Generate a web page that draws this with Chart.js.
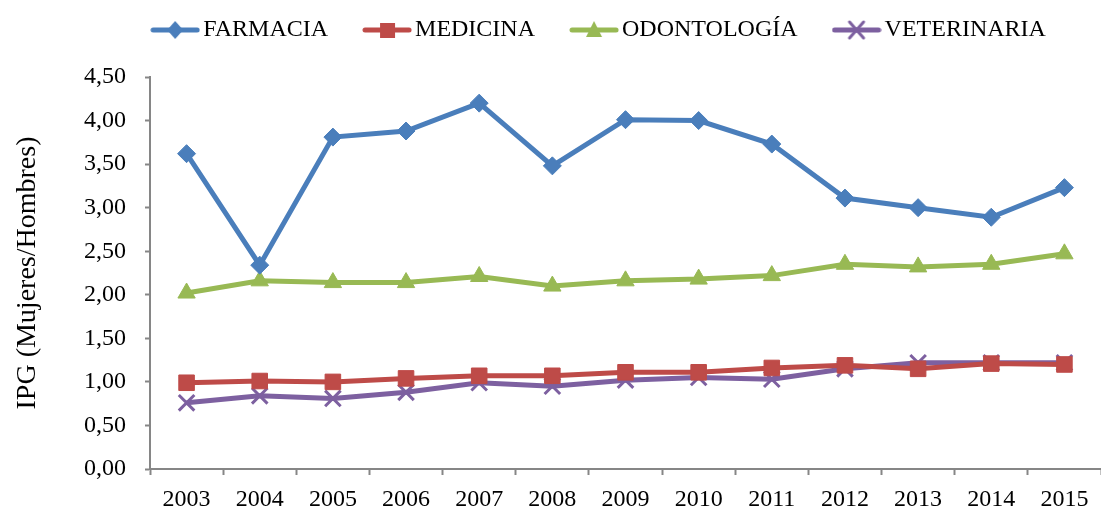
<!DOCTYPE html>
<html>
<head>
<meta charset="utf-8">
<script src="https://cdn.jsdelivr.net/npm/chart.js@4/dist/chart.umd.min.js"></script>
<style>
  html, body { margin: 0; padding: 0; background: #fff; overflow: hidden; }
  canvas { display: block; }
</style>
</head>
<body>
<canvas id="ipgChart" width="1101" height="510"></canvas>
<script>
const years = ['2003', '2004', '2005', '2006', '2007', '2008', '2009', '2010', '2011', '2012', '2013', '2014', '2015'];
const farmacia = [3.62, 2.34, 3.81, 3.88, 4.20, 3.48, 4.01, 4.00, 3.73, 3.11, 3.00, 2.89, 3.23];
const medicina = [0.99, 1.01, 1.00, 1.04, 1.07, 1.07, 1.11, 1.11, 1.16, 1.19, 1.15, 1.21, 1.20];
const odontologia = [2.02, 2.16, 2.14, 2.14, 2.21, 2.10, 2.16, 2.18, 2.22, 2.35, 2.32, 2.35, 2.47];
const veterinaria = [0.76, 0.84, 0.81, 0.88, 0.99, 0.95, 1.02, 1.05, 1.03, 1.15, 1.22, 1.22, 1.22];
const yMin = 0, yMax = 4.5, yStep = 0.5;

const FONT = '"Liberation Serif", "Times New Roman", serif';
const AXIS_GREY = '#868686';

// legend icon: short line with the marker in the middle
function legendIcon(color, shape) {
    const c = document.createElement('canvas');
    c.width = 50; c.height = 22;
    const g = c.getContext('2d');
    g.strokeStyle = color;
    g.fillStyle = color;
    g.lineWidth = 5;
    g.lineCap = 'round';
    g.beginPath(); g.moveTo(3, 11); g.lineTo(47, 11); g.stroke();
    g.beginPath();
    if (shape === 'diamond') {
        g.moveTo(25, 2); g.lineTo(33, 11); g.lineTo(25, 20); g.lineTo(17, 11); g.closePath(); g.fill();
    } else if (shape === 'square') {
        g.fillRect(18, 4, 15, 15);
    } else if (shape === 'triangle') {
        g.moveTo(25, 2); g.lineTo(33, 18); g.lineTo(17, 18); g.closePath(); g.fill();
    } else {
        g.lineWidth = 3;
        g.moveTo(18, 3); g.lineTo(32, 19); g.moveTo(32, 3); g.lineTo(18, 19); g.stroke();
    }
    return c;
}

function series(label, data, color, style, radius, icon) {
    return {
        label: label,
        data: data,
        borderColor: color,
        backgroundColor: color,
        borderWidth: 5,
        pointStyle: style,
        pointRadius: radius,
        pointHoverRadius: radius,
        pointBackgroundColor: color,
        pointBorderColor: color,
        pointBorderWidth: style === 'crossRot' ? 3 : 1,
        tension: 0,
        clip: false,
        legendIcon: icon
    };
}

const datasets = [
    series('FARMACIA', farmacia, '#4A7EBB', 'rectRot', 9, legendIcon('#4A7EBB', 'diamond')),
    series('MEDICINA', medicina, '#BE4B48', 'rect', 11, legendIcon('#BE4B48', 'square')),
    series('ODONTOLOGÍA', odontologia, '#98B954', 'triangle', 10, legendIcon('#98B954', 'triangle')),
    series('VETERINARIA', veterinaria, '#7D60A0', 'crossRot', 11, legendIcon('#7D60A0', 'cross'))
];

// legend box: fixed height above the plot, then nudged into place
const legendPlace = {
    id: 'legendPlace',
    beforeInit(chart) {
        const fit = chart.legend.fit;
        chart.legend.fit = function () {
            fit.bind(chart.legend)();
            this.height = 77;
        };
    },
    afterLayout(chart) {
        const lg = chart.legend;
        lg.top -= 25; lg.bottom -= 25;
        lg.left += 52; lg.right += 52;
    }
};

const ctx = document.getElementById('ipgChart').getContext('2d');

const ipgChart = new Chart(ctx, {
    type: 'line',
    data: { labels: years, datasets: datasets },
    plugins: [legendPlace],
    options: {
        responsive: false,
        animation: false,
        layout: { autoPadding: false, padding: { left: 0, right: 0, top: 0, bottom: 0 } },
        plugins: {
            legend: {
                position: 'top',
                labels: {
                    usePointStyle: true,
                    pointStyleWidth: 32,
                    padding: 43,
                    color: '#000',
                    font: { family: FONT, size: 24 },
                    generateLabels(chart) {
                        return chart.data.datasets.map((ds, i) => ({
                            text: ds.label,
                            pointStyle: ds.legendIcon,
                            fillStyle: ds.borderColor,
                            strokeStyle: ds.borderColor,
                            lineWidth: 0,
                            hidden: !chart.isDatasetVisible(i),
                            datasetIndex: i
                        }));
                    }
                }
            },
            tooltip: { enabled: false },
            title: { display: false }
        },
        scales: {
            x: {
                offset: true,
                grid: {
                    offset: true,
                    drawOnChartArea: false,
                    drawTicks: true,
                    tickLength: 6,
                    tickColor: AXIS_GREY,
                    tickWidth: 2
                },
                border: { color: AXIS_GREY, width: 2 },
                ticks: {
                    color: '#000',
                    padding: 10,
                    maxRotation: 0,
                    font: { family: FONT, size: 24 }
                },
                afterFit(scale) {
                    scale.height = 41;
                    scale.paddingLeft = 0;
                    scale.paddingRight = 0;
                }
            },
            y: {
                min: yMin,
                max: yMax,
                grid: {
                    drawOnChartArea: false,
                    drawTicks: true,
                    tickLength: 5,
                    tickColor: AXIS_GREY,
                    tickWidth: 2
                },
                border: { color: AXIS_GREY, width: 2 },
                ticks: {
                    stepSize: yStep,
                    color: '#000',
                    padding: 19,
                    font: { family: FONT, size: 24 },
                    callback: v => v.toFixed(2).replace('.', ',')
                },
                title: {
                    display: true,
                    text: 'IPG (Mujeres/Hombres)',
                    color: '#000',
                    padding: { top: 11, bottom: 0 },
                    font: { family: FONT, size: 28 }
                },
                afterFit(scale) { scale.width = 150; }
            }
        }
    }
});
</script>
</body>
</html>
